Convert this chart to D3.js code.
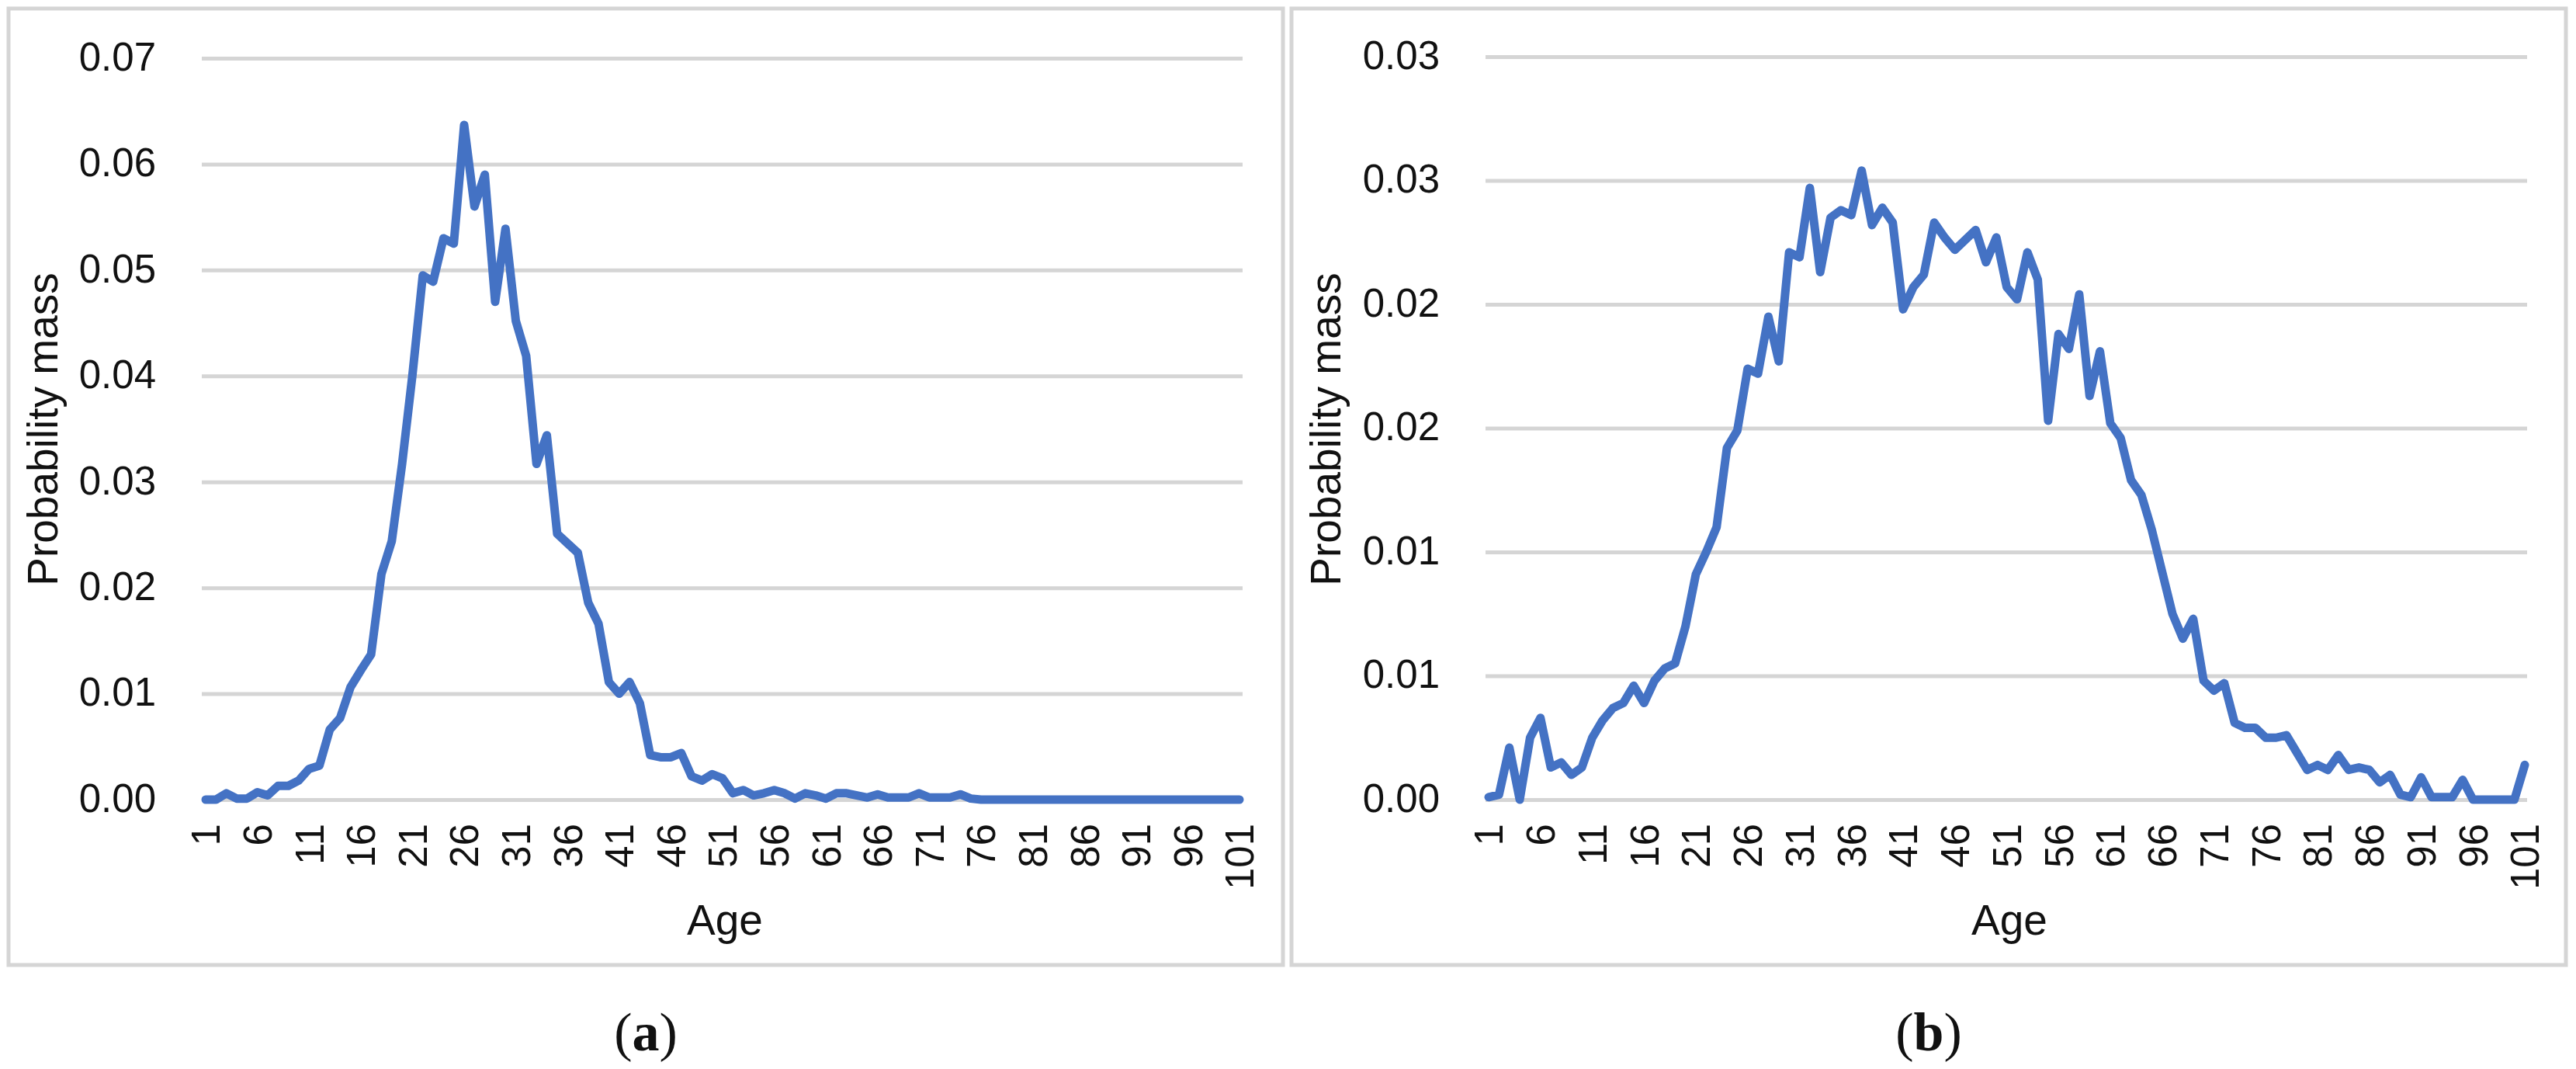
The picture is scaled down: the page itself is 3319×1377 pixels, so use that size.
<!DOCTYPE html>
<html lang="en">
    <head>
        <meta charset="utf-8">
        <title>Age distributions</title>
        <script src="https://d3js.org/d3.v7.min.js"></script>
        <style>
            body { margin: 0; background: #fff; }
            text { font-family: "Liberation Sans", Arial, sans-serif; fill: #111; }
        </style>
    </head>

    <body>
        <div id="chart"></div>

        <script>

            // categories (age 1..101)
            var ages = [1,2,3,4,5,6,7,8,9,10,11,12,13,14,15,16,17,18,19,20,
                        21,22,23,24,25,26,27,28,29,30,31,32,33,34,35,36,37,38,39,40,
                        41,42,43,44,45,46,47,48,49,50,51,52,53,54,55,56,57,58,59,60,
                        61,62,63,64,65,66,67,68,69,70,71,72,73,74,75,76,77,78,79,80,
                        81,82,83,84,85,86,87,88,89,90,91,92,93,94,95,96,97,98,99,100,101];

            // panel (a) probability mass
            var massA = [0,0,0.0006,0.0001,0.0001,0.0007,0.0004,0.0013,0.0013,0.0018,
                         0.0029,0.0032,0.0066,0.0077,0.0106,0.0122,0.0137,0.0213,0.0244,0.0317,
                         0.0401,0.0495,0.0489,0.0530,0.0525,0.0637,0.0560,0.0590,0.0470,0.0539,
                         0.0452,0.0419,0.0317,0.0344,0.0251,0.0242,0.0233,0.0186,0.0166,0.0111,
                         0.0100,0.0111,0.0091,0.0042,0.0040,0.0040,0.0044,0.0022,0.0018,0.0024,
                         0.0020,0.0006,0.0009,0.0004,0.0006,0.0009,0.0006,0.0001,0.0006,0.0004,
                         0.0001,0.0006,0.0006,0.0004,0.0002,0.0005,0.0002,0.0002,0.0002,0.0006,
                         0.0002,0.0002,0.0002,0.0005,0.0001,0,0,0,0,0,
                         0,0,0,0,0,0,0,0,0,0,
                         0,0,0,0,0,0,0,0,0,0,0];

            // panel (b) probability mass
            var massB = [0.0001,0.0002,0.0021,0,0.0025,0.0033,0.0013,0.0015,0.0010,0.0013,
                         0.0025,0.0032,0.0037,0.0039,0.0046,0.0039,0.0048,0.0053,0.0055,0.0070,
                         0.0091,0.0100,0.0110,0.0142,0.0149,0.0174,0.0172,0.0195,0.0177,0.0221,
                         0.0219,0.0247,0.0213,0.0235,0.0238,0.0236,0.0254,0.0232,0.0239,0.0233,
                         0.0198,0.0207,0.0212,0.0233,0.0227,0.0222,0.0226,0.0230,0.0217,0.0227,
                         0.0207,0.0202,0.0221,0.0210,0.0153,0.0188,0.0182,0.0204,0.0163,0.0181,
                         0.0152,0.0146,0.0129,0.0123,0.0109,0.0092,0.0075,0.0065,0.0073,0.0048,
                         0.0044,0.0047,0.0031,0.0029,0.0029,0.0025,0.0025,0.0026,0.0019,0.0012,
                         0.0014,0.0012,0.0018,0.0012,0.0013,0.0012,0.0007,0.0010,0.0002,0.0001,
                         0.0009,0.0001,0.0001,0.0001,0.0008,0,0,0,0,0,0.0014];

            // ticks
            var xTicks = [1,6,11,16,21,26,31,36,41,46,51,56,61,66,71,76,81,86,91,96,101];
            var yTicksA = [0,0.01,0.02,0.03,0.04,0.05,0.06,0.07];
            var yLabelsA = ["0.00","0.01","0.02","0.03","0.04","0.05","0.06","0.07"];
            var yTicksB = [0,0.005,0.01,0.015,0.02,0.025,0.03];
            var yLabelsB = ["0.00","0.01","0.01","0.02","0.02","0.03","0.03"];

            var W = 3319, H = 1377;

            var svg = d3.select("#chart")
                        .append("svg")
                        .attr("width", W)
                        .attr("height", H);

            svg.append("rect")
                .attr("width", W)
                .attr("height", H)
                .style("fill", "#fff");

            function drawPanel(p) {
                var g = svg.append("g");

                // chart border
                g.append("rect")
                    .attr("x", p.box[0])
                    .attr("y", p.box[1])
                    .attr("width", p.box[2])
                    .attr("height", p.box[3])
                    .style("fill", "none")
                    .style("stroke", "#d5d5d5")
                    .style("stroke-width", 5);

                var x = d3.scalePoint()
                        .domain(ages)
                        .range([p.x0, p.x1]);

                var y = d3.scaleLinear()
                        .domain([0, p.yMax])
                        .range([p.yBottom, p.yTop]);

                // y axis + gridlines
                var yAxis = g.append("g")
                    .attr("transform", "translate(" + p.gridLeft + ",0)")
                    .call(d3.axisLeft(y)
                        .tickValues(p.yTicks)
                        .tickFormat(function(d, i){ return p.yLabels[i]; })
                        .tickSize(-(p.gridRight - p.gridLeft))
                        .tickPadding(59));
                yAxis.select(".domain").remove();
                yAxis.selectAll(".tick line")
                    .attr("stroke", "#d5d5d5")
                    .attr("stroke-width", 5);
                yAxis.selectAll(".tick text")
                    .style("font-size", "51px")
                    .attr("dy", "0.3em");

                // x axis, rotated labels
                var xAxis = g.append("g")
                    .attr("transform", "translate(0," + p.yBottom + ")")
                    .call(d3.axisBottom(x)
                        .tickValues(xTicks)
                        .tickSize(0));
                xAxis.select(".domain").remove();
                xAxis.selectAll(".tick text")
                    .style("font-size", "51px")
                    .style("text-anchor", "end")
                    .attr("transform", "rotate(-90)")
                    .attr("x", -31)
                    .attr("y", 0)
                    .attr("dy", "0.35em");

                // the series
                var line = d3.line()
                    .x(function(d, i){ return x(ages[i]); })
                    .y(function(d){ return y(d); });

                g.append("path")
                    .datum(p.values)
                    .attr("d", line)
                    .style("fill", "none")
                    .style("stroke", "#4472C4")
                    .style("stroke-width", 11)
                    .style("stroke-linejoin", "round")
                    .style("stroke-linecap", "round");

                // axis titles
                g.append("text")
                    .attr("transform", "translate(" + p.yTitleX + ",553) rotate(-90)")
                    .attr("text-anchor", "middle")
                    .style("font-size", "55px")
                    .text("Probability mass");

                g.append("text")
                    .attr("x", p.xTitleX)
                    .attr("y", 1204)
                    .attr("text-anchor", "middle")
                    .style("font-size", "55px")
                    .text("Age");

                // caption
                var cap = g.append("text")
                    .attr("x", p.box[0] + p.box[2] / 2)
                    .attr("y", 1353)
                    .attr("text-anchor", "middle")
                    .style("font-family", "'Liberation Serif', 'Times New Roman', serif")
                    .style("font-size", "70px");
                cap.append("tspan").text("(");
                cap.append("tspan").style("font-weight", "bold").text(p.letter);
                cap.append("tspan").text(")");
            }

            drawPanel({
                box: [11, 11, 1642, 1232],
                x0: 265, x1: 1597,
                gridLeft: 260, gridRight: 1601,
                yBottom: 1030, yTop: 75, yMax: 0.07,
                yTicks: yTicksA, yLabels: yLabelsA,
                values: massA,
                yTitleX: 74, xTitleX: 934,
                letter: "a"
            });

            drawPanel({
                box: [1664, 11, 1642, 1232],
                x0: 1918, x1: 3253,
                gridLeft: 1914, gridRight: 3256,
                yBottom: 1030, yTop: 73, yMax: 0.03,
                yTicks: yTicksB, yLabels: yLabelsB,
                values: massB,
                yTitleX: 1727, xTitleX: 2589,
                letter: "b"
            });

        </script>
    </body>
</html>
